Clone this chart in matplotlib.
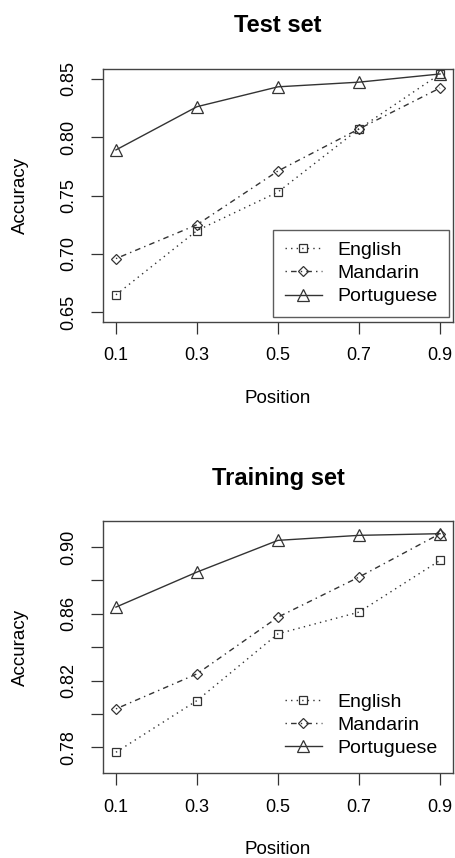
import numpy as np
import matplotlib
matplotlib.use('Agg')
import matplotlib.pyplot as plt

plt.rcParams['font.family'] = ['Liberation Sans', 'DejaVu Sans']

# data
positions = [0.1, 0.3, 0.5, 0.7, 0.9]
languages = ['English', 'Mandarin', 'Portuguese']

english_test = [0.665, 0.720, 0.753, 0.807, 0.854]
mandarin_test = [0.696, 0.725, 0.771, 0.807, 0.842]
portuguese_test = [0.789, 0.826, 0.843, 0.847, 0.854]

english_train = [0.777, 0.808, 0.848, 0.861, 0.892]
mandarin_train = [0.803, 0.824, 0.858, 0.882, 0.908]
portuguese_train = [0.864, 0.885, 0.904, 0.907, 0.908]

test_yticks = [0.65, 0.70, 0.75, 0.80, 0.85]
train_yticks = [0.78, 0.80, 0.82, 0.84, 0.86, 0.88, 0.90]
train_ylabels = ['0.78', '', '0.82', '', '0.86', '', '0.90']

W, H = 455, 858
fig = plt.figure(figsize=(W / 100, H / 100), dpi=100)

line_col = '#333333'
styles = {
    'English': dict(linestyle=(0, (1, 3)), marker='s', markersize=5.5),
    'Mandarin': dict(linestyle=(0, (1, 3, 4, 3)), marker='D', markersize=5.5),
    'Portuguese': dict(linestyle='-', marker='^', markersize=8),
}


def panel(rect, series, ylim, yticks, ylabels, title, title_y, xlab_y, frame):
    ax = fig.add_axes(rect)
    for name, vals in zip(languages, series):
        ax.plot(positions, vals, color=line_col, lw=1.0, label=name,
                markerfacecolor='none', markeredgecolor=line_col,
                markeredgewidth=0.9, **styles[name])
    ax.set_xlim(0.068, 0.932)
    ax.set_ylim(*ylim)
    ax.set_xticks(positions)
    ax.set_xticklabels([str(p) for p in positions])
    ax.set_yticks(yticks)
    ax.set_yticklabels(ylabels, rotation=90, va='center')
    ax.tick_params(direction='out', length=8.5, width=0.9, pad=10,
                   labelsize=13, color='#333333')
    for s in ax.spines.values():
        s.set_color('#444444')
        s.set_linewidth(1.0)
    leg = ax.legend(loc='lower right', bbox_to_anchor=(0.989, 0.0186),
                    borderaxespad=0, fontsize=14, frameon=frame,
                    fancybox=False, handlelength=1.9, handletextpad=0.8,
                    labelspacing=0.28, borderpad=0.6, numpoints=1)
    if frame:
        leg.get_frame().set_edgecolor('#333333')
        leg.get_frame().set_linewidth(1.0)

    cx = (rect[0] + rect[2] / 2)
    fig.text(cx, title_y, title, ha='center', va='center',
             fontsize=17, fontweight='bold')
    fig.text(cx, xlab_y, 'Position', ha='center', va='center', fontsize=13.5)
    fig.text(20 / W, rect[1] + rect[3] / 2, 'Accuracy', rotation=90,
             ha='center', va='center', fontsize=13.5)
    return ax


# top panel: box 103..453 x 69.3..321.7 px
panel([103 / W, 1 - 321.7 / H, 350 / W, 252.4 / H],
      [english_test, mandarin_test, portuguese_test],
      (0.642, 0.858), test_yticks, [f'{v:.2f}' for v in test_yticks],
      'Test set', 1 - 26 / H, 1 - 399 / H, True)

# bottom panel: box 103..453 x 521..773.3 px
panel([103 / W, 1 - 773.3 / H, 350 / W, 252.3 / H],
      [english_train, mandarin_train, portuguese_train],
      (0.7644, 0.9156), train_yticks, train_ylabels,
      'Training set', 1 - 478 / H, 1 - 850 / H, False)

fig.savefig('out.png', dpi=100)
